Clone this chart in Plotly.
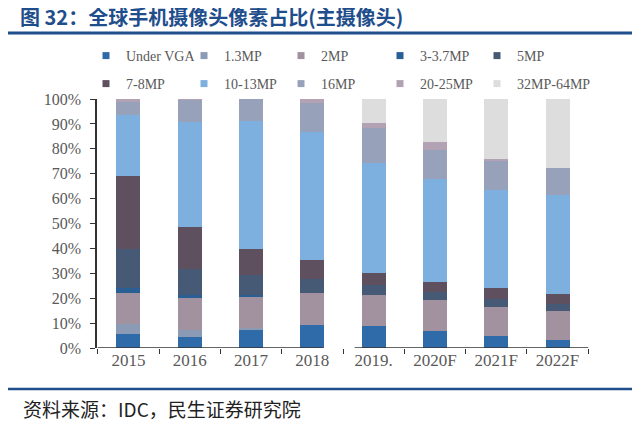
import plotly.graph_objects as go

# Data (share of main camera resolution, %)
years = ["2015", "2016", "2017", "2018", "2019.", "2020F", "2021F", "2022F"]
under_vga = [5.8, 4.4, 7.1, 9.2, 8.8, 6.7, 4.7, 3.4]
mp_1_3 = [4.0, 3.0, 1.1, 0, 0, 0, 0, 0]
mp_2 = [12.3, 12.6, 12.5, 13.0, 12.6, 12.4, 11.7, 11.4]
mp_3_37 = [2.1, 1.4, 0.5, 0, 0, 0, 0, 0]
mp_5 = [15.7, 10.4, 8.0, 5.5, 4.1, 3.4, 3.1, 3.0]
mp_7_8 = [29.2, 16.7, 10.4, 7.5, 4.6, 4.1, 4.6, 3.9]
mp_10_13 = [24.5, 42.4, 51.7, 51.4, 44.2, 41.3, 39.5, 39.9]
mp_16 = [5.1, 8.8, 8.7, 11.6, 13.9, 11.6, 11.7, 10.6]
mp_20_25 = [1.3, 0.3, 0, 1.8, 2.2, 3.1, 0.8, 0]
mp_32_64 = [0, 0, 0, 0, 9.6, 17.4, 23.9, 27.8]

series_names = ["Under VGA", "1.3MP", "2MP", "3-3.7MP", "5MP",
                "7-8MP", "10-13MP", "16MP", "20-25MP", "32MP-64MP"]
series_values = [under_vga, mp_1_3, mp_2, mp_3_37, mp_5,
                 mp_7_8, mp_10_13, mp_16, mp_20_25, mp_32_64]
colors = ["#2F6BA8", "#8C9BB5", "#A2919F", "#2A5F96", "#475A75",
          "#5F5060", "#7EB0DF", "#97A2BA", "#B3A2B3", "#DDDDDD"]

SERIF = "Liberation Serif, Times New Roman, serif"
CJK = "Noto Sans CJK SC"
NAVY = "#1F4E8C"

# page body adds an 8px margin, so the figure is laid out 8px smaller
OFF = 8
W, H = 640 - OFF, 430 - OFF

fig = go.Figure()

for name, vals, col in zip(series_names, series_values, colors):
    fig.add_trace(go.Bar(
        x=years, y=vals, name=name,
        marker=dict(color=col, line=dict(width=0)),
        showlegend=False,
    ))

# legend: one small legend box per entry, laid out as 2 rows x 5 columns
col_x = [86, 184, 281, 380, 477]   # page px, left edge of each entry
row_y = [56, 84]                   # page px, row centres
legend_boxes = {}
for i, (name, col) in enumerate(zip(series_names, colors)):
    key = "legend" if i == 0 else f"legend{i + 1}"
    fig.add_trace(go.Scatter(
        x=[None], y=[None], mode="markers", name=name,
        marker=dict(symbol="square", size=7, color=col),
        legend=key,
    ))
    legend_boxes[key] = dict(
        xref="container", yref="container",
        x=(col_x[i % 5] - OFF) / W, xanchor="left",
        y=1 - (row_y[i // 5] - OFF) / H, yanchor="middle",
        font=dict(family=SERIF, size=14, color="#595959"),
        bgcolor="rgba(0,0,0,0)", itemwidth=30,
    )

fig.update_layout(
    width=W, height=H,
    barmode="stack", bargap=0.61,
    plot_bgcolor="white", paper_bgcolor="white",
    margin=dict(l=97 - OFF, r=51, t=99 - OFF, b=82, autoexpand=False),
    title=dict(
        text="<b>图 32：全球手机摄像头像素占比(主摄像头)</b>",
        font=dict(family=CJK, size=20, color=NAVY),
        x=(20 - OFF) / W, xanchor="left", xref="container",
        y=1 - (18 - OFF) / H, yanchor="middle", yref="container",
    ),
    **legend_boxes,
)

fig.update_xaxes(
    type="category", showline=False, showgrid=False,
    ticks="outside", tickson="boundaries", ticklen=5,
    tickcolor="#333333", tickwidth=1.2,
    tickfont=dict(family=SERIF, size=17, color="#595959"),
)
fig.update_yaxes(
    range=[0, 100], dtick=10, ticksuffix="%",
    showline=True, linecolor="#333333", linewidth=1.5,
    ticks="outside", ticklen=5, tickcolor="#333333", tickwidth=1.2,
    showgrid=False, zeroline=False, ticklabelstandoff=6,
    tickfont=dict(family=SERIF, size=16, color="#595959"),
)

# broken x axis baseline (two segments)
for x0, x1 in [(-0.5, 3.17), (3.69, 7.5)]:
    fig.add_shape(type="line", xref="x", yref="y", x0=x0, x1=x1, y0=0, y1=0,
                  line=dict(color="#333333", width=1.5))

# header / footer rules
for yy, w in [((348 - 33) / 249, 3), ((348 - 389) / 249, 2.5)]:
    fig.add_shape(type="line", xref="paper", yref="paper",
                  x0=(4 - 97) / 492, x1=(636 - 97) / 492, y0=yy, y1=yy,
                  line=dict(color=NAVY, width=w))

fig.add_annotation(
    text="资料来源：IDC，民生证券研究院",
    xref="paper", yref="paper",
    x=(21 - 97) / 492, y=(348 - 408) / 249,
    xanchor="left", yanchor="middle", showarrow=False,
    font=dict(family=CJK, size=19, color="#222222"),
)

fig.write_html("out.html")
